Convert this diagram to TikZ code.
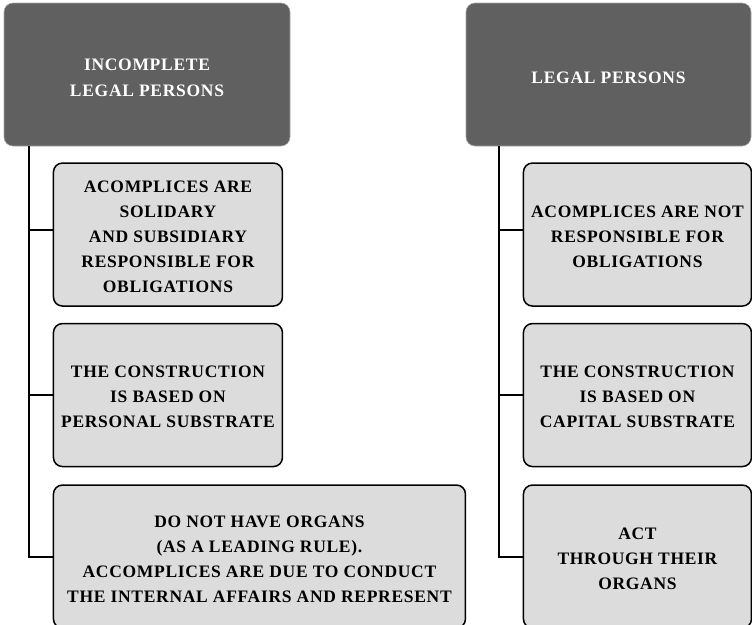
\documentclass[tikz,border=0pt]{standalone}
\usepackage{fontspec}
\setmainfont{Liberation Serif}[LetterSpace=4]
\usetikzlibrary{positioning}
\definecolor{headgray}{HTML}{606060}
\definecolor{boxgray}{HTML}{DCDCDC}
% lower a block of lines a little, keeping its size
\newcommand{\lowtext}[2]{\raisebox{-#1}[\height][\depth]{\begin{tabular}{@{}c@{}}#2\end{tabular}}}

\begin{document}
\begin{tikzpicture}[x=1pt,y=-1pt,
  head/.style={rectangle,rounded corners=9pt,fill=headgray,draw=gray!70,line width=0.6pt,
    text=white,font=\fontsize{17.5}{25.5}\selectfont\bfseries,align=center,
    minimum width=286pt,minimum height=143pt,inner sep=0pt},
  item/.style={rectangle,rounded corners=9pt,fill=boxgray,draw=black,line width=1.5pt,
    font=\fontsize{17.5}{25}\selectfont\bfseries,align=center,
    minimum width=229pt,minimum height=143pt,inner sep=0pt},
  wide/.style={minimum width=412pt},
  link/.style={line width=2pt}]
  \useasboundingbox (0,0) rectangle (752,624);
  % left column
  \node[head] (incl) at (147,74.5) {\lowtext{4pt}{INCOMPLETE\\[0.5pt]LEGAL PERSONS}};
  \node[item,below right=16pt and 49pt of incl.south west] (isol) {\lowtext{3pt}{ACOMPLICES ARE\\SOLIDARY\\AND SUBSIDIARY\\RESPONSIBLE FOR\\OBLIGATIONS}};
  \node[item,below=16pt of isol] (ipers) {\lowtext{2pt}{THE CONSTRUCTION\\IS BASED ON\\PERSONAL SUBSTRATE}};
  \node[item,wide,below=17pt of ipers.south west,anchor=north west] (iorg) {\lowtext{3pt}{DO NOT HAVE ORGANS\\(AS A LEADING RULE).\\ACCOMPLICES ARE DUE TO CONDUCT\\THE INTERNAL AFFAIRS AND REPRESENT}};
  % right column
  \node[head,minimum width=285pt] (legal) at (608.5,74.5) {\lowtext{4pt}{LEGAL PERSONS}};
  \node[item,minimum width=228pt,below right=16pt and 57pt of legal.south west] (lnot) {\lowtext{3pt}{ACOMPLICES ARE NOT\\RESPONSIBLE FOR\\OBLIGATIONS}};
  \node[item,minimum width=228pt,below=16pt of lnot] (lcap) {\lowtext{2pt}{THE CONSTRUCTION\\IS BASED ON\\CAPITAL SUBSTRATE}};
  \node[item,minimum width=228pt,below=17pt of lcap] (lorg) {\lowtext{3pt}{ACT\\THROUGH THEIR\\ORGANS}};
  % connectors
  \draw[link] ([xshift=25pt]incl.south west) |- ([yshift=5pt]isol.west);
  \draw[link] ([xshift=25pt]incl.south west) |- (ipers.west);
  \draw[link] ([xshift=25pt]incl.south west) |- (iorg.west);
  \draw[link] ([xshift=33pt]legal.south west) |- ([yshift=5pt]lnot.west);
  \draw[link] ([xshift=33pt]legal.south west) |- (lcap.west);
  \draw[link] ([xshift=33pt]legal.south west) |- (lorg.west);
\end{tikzpicture}
\end{document}
